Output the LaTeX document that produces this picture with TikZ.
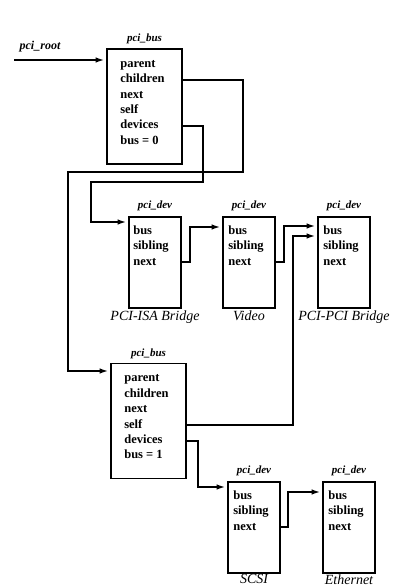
\documentclass[tikz,border=0pt]{standalone}
\usepackage{fontspec}
\setmainfont{Liberation Serif}
\usetikzlibrary{arrows.meta,positioning}
\tikzstyle{record}=[
	rectangle,
	draw,
	line width=1.8pt,
	inner sep=0pt
]
\tikzstyle{busrec}=[record, minimum width=75pt, minimum height=115pt]
\tikzstyle{devrec}=[record, minimum width=52pt, minimum height=91pt]
\tikzstyle{field}=[
	inner sep=0pt,
	font=\fontsize{12.5}{14}\selectfont\bfseries,
	text height=8.5pt,
	text depth=3pt,
	node distance=3.5pt and 0pt
]
\tikzstyle{kind}=[inner sep=0pt, font=\fontsize{11}{13}\selectfont\bfseries\itshape]
\tikzstyle{devlabel}=[inner sep=0pt, font=\fontsize{14}{16}\selectfont\itshape]
\tikzstyle{pointer}=[
	-{Latex[length=9pt,width=5.5pt]},
	line width=1.8pt,
	shorten >=1.5pt
]

\begin{document}
\begin{tikzpicture}[x=1pt,y=-1pt]
\useasboundingbox (0,0) rectangle (404,587);

% pci_bus 0
\node [busrec] (bus0) at (144.5,106.5) {};
\node [kind, above=4pt of bus0] (bus0type) {pci\_bus};
\node [field, below right=10.5pt and 14pt of bus0.north west] (b0parent) {parent};
\node [field, below right=of b0parent.south west] (b0children) {children};
\node [field, below right=of b0children.south west] (b0next) {next};
\node [field, below right=of b0next.south west] (b0self) {self};
\node [field, below right=of b0self.south west] (b0devices) {devices};
\node [field, below right=of b0devices.south west] (b0num) {bus = 0};

% pci_bus 1
\node [busrec] (bus1) at (148.5,421) {};
\node [kind, above=4pt of bus1] (bus1type) {pci\_bus};
\node [field, below right=10.5pt and 14pt of bus1.north west] (b1parent) {parent};
\node [field, below right=of b1parent.south west] (b1children) {children};
\node [field, below right=of b1children.south west] (b1next) {next};
\node [field, below right=of b1next.south west] (b1self) {self};
\node [field, below right=of b1self.south west] (b1devices) {devices};
\node [field, below right=of b1devices.south west] (b1num) {bus = 1};

% pci_dev records
\node [devrec] (isa) at (155,262.5) {};
\node [kind, above=5pt of isa] (isatype) {pci\_dev};
\node [devlabel, below=2pt of isa] (isaname) {PCI-ISA Bridge};
\node [field, below right=9.5pt and 5pt of isa.north west] (isabus) {bus};
\node [field, below right=of isabus.south west] (isasib) {sibling};
\node [field, below right=of isasib.south west] (isanext) {next};

\node [devrec] (video) at (249,262.5) {};
\node [kind, above=5pt of video] (videotype) {pci\_dev};
\node [devlabel, below=2pt of video] (videoname) {Video};
\node [field, below right=9.5pt and 6pt of video.north west] (videobus) {bus};
\node [field, below right=of videobus.south west] (videosib) {sibling};
\node [field, below right=of videosib.south west] (videonext) {next};

\node [devrec] (ppb) at (344,262.5) {};
\node [kind, above=5pt of ppb] (ppbtype) {pci\_dev};
\node [devlabel, below=2pt of ppb] (ppbname) {PCI-PCI Bridge};
\node [field, below right=9.5pt and 6pt of ppb.north west] (ppbbus) {bus};
\node [field, below right=of ppbbus.south west] (ppbsib) {sibling};
\node [field, below right=of ppbsib.south west] (ppbnext) {next};

\node [devrec] (scsi) at (254,527.5) {};
\node [kind, above=5pt of scsi] (scsitype) {pci\_dev};
\node [devlabel, below=0.5pt of scsi] (scsiname) {SCSI};
\node [field, below right=9.5pt and 6pt of scsi.north west] (scsibus) {bus};
\node [field, below right=of scsibus.south west] (scsisib) {sibling};
\node [field, below right=of scsisib.south west] (scsinext) {next};

\node [devrec] (eth) at (349,527.5) {};
\node [kind, above=5pt of eth] (ethtype) {pci\_dev};
\node [devlabel, below=0.5pt of eth] (ethname) {Ethernet};
\node [field, below right=9.5pt and 6pt of eth.north west] (ethbus) {bus};
\node [field, below right=of ethbus.south west] (ethsib) {sibling};
\node [field, below right=of ethsib.south west] (ethnext) {next};

% pointers
\node [kind, font=\fontsize{12}{14}\selectfont\bfseries\itshape] (rootlabel) at (40,47) {pci\_root};
\coordinate (root) at (14,60);
\draw [pointer] (root) -- (root -| bus0.west);

\coordinate (kid0) at (243,172);
\coordinate (kid1) at (68,371);
\draw [pointer] (bus0.east |- b0children) -| (kid0) -| (kid1) -- (kid1 -| bus1.west);

\coordinate (dv0) at (203,182);
\coordinate (dv1) at (91,222);
\draw [pointer] (bus0.east |- b0devices) -| (dv0) -| (dv1) -- (dv1 -| isa.west);

\coordinate (sib0) at (190,227);
\draw [pointer] (isa.east |- isanext) -| (sib0) -- (sib0 -| video.west);
\coordinate (sib1) at (284,226);
\draw [pointer] (video.east |- videonext) -| (sib1) -- (sib1 -| ppb.west);
\coordinate (self1) at (293,236);
\draw [pointer] (bus1.east |- b1self) -| (self1) -- (self1 -| ppb.west);

\coordinate (dv2) at (198,487);
\draw [pointer] (bus1.east |- b1devices) -| (dv2) -- (dv2 -| scsi.west);
\coordinate (sib2) at (288,492);
\draw [pointer] (scsi.east |- scsinext) -| (sib2) -- (sib2 -| eth.west);
\end{tikzpicture}
\end{document}
